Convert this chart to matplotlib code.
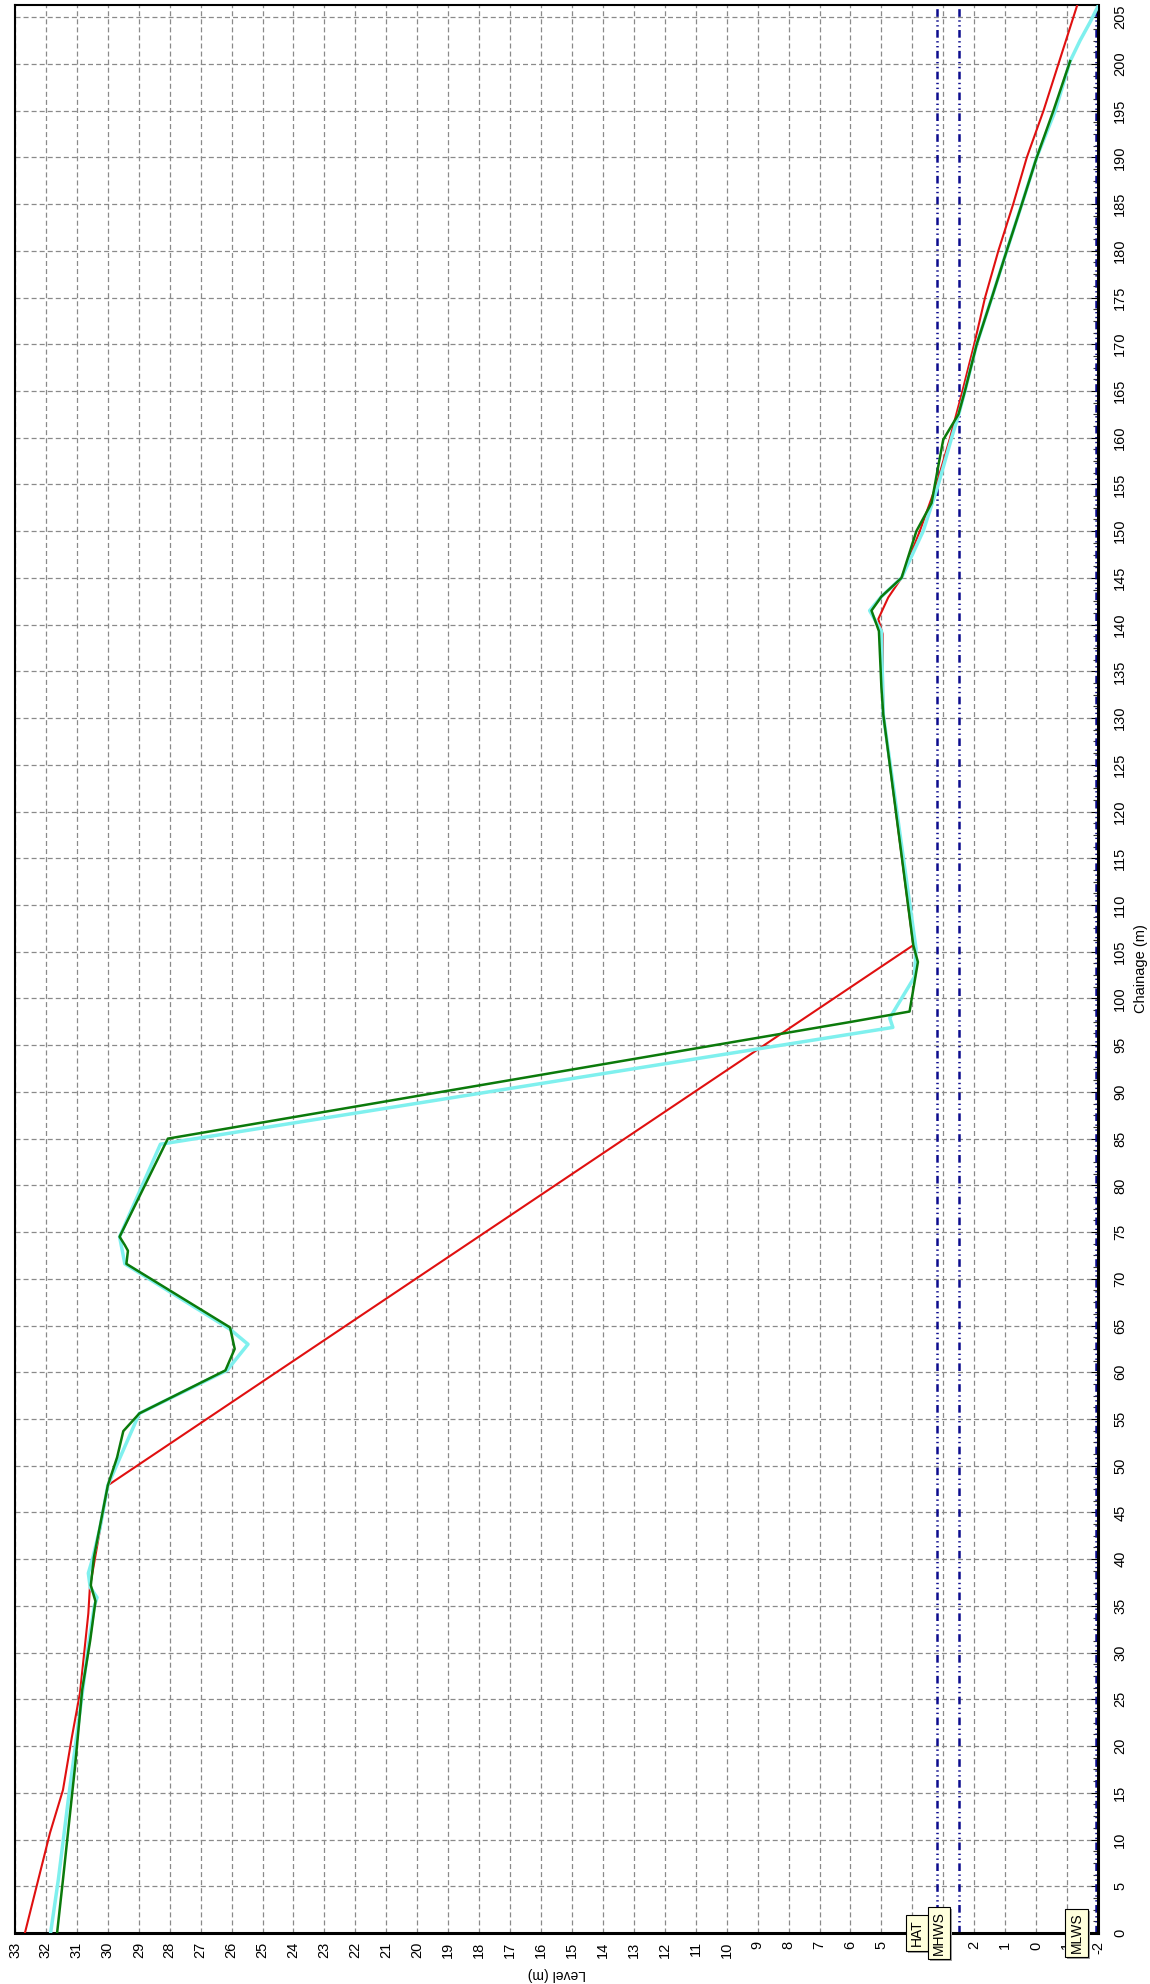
import matplotlib
matplotlib.use("Agg")
import matplotlib.pyplot as plt
from matplotlib.ticker import MultipleLocator, FixedLocator

plt.rcParams['font.family'] = ['Liberation Sans', 'DejaVu Sans']
plt.rcParams['lines.scale_dashes'] = False

# === Profiles: chainage (m) and level (m) ===
red_ch = [0, 10.7, 15.3, 21, 25.7, 34.2, 37, 47.9, 105.7, 130.4, 139, 140.6, 142.9,
          145, 150, 155, 160, 165, 170, 175, 180, 185, 190, 195, 206.3]
red_lv = [32.68, 31.87, 31.45, 31.16, 30.9, 30.63, 30.58, 30.0, 3.97, 4.94, 4.96, 5.1, 4.78,
          4.35, 3.76, 3.22, 2.78, 2.38, 2.0, 1.65, 1.22, 0.74, 0.30, -0.24, -1.33]

green_ch = [0, 5.7, 17.8, 26, 31.3, 35.5, 37.2, 40.2, 47.9, 50.9, 53.7, 55.6, 60.2, 62.5,
            64.8, 71.6, 73.0, 73.6, 74.5, 85.0, 97.5, 98.6, 103.9, 105.7, 130.4, 133.3, 139.3,
            141.5, 143, 145, 150, 153, 155, 157, 159.8, 162.5, 165, 170, 175, 180, 185,
            190, 195, 200.3]
green_lv = [31.64, 31.45, 31.06, 30.83, 30.57, 30.4, 30.55, 30.45, 30.0, 29.7, 29.5, 28.98, 26.2, 25.9,
            26.05, 29.4, 29.35, 29.45, 29.62, 28.06, 5.97, 4.09, 3.82, 3.97, 4.94, 5.0, 5.08,
            5.32, 5.0, 4.35, 3.87, 3.38, 3.27, 3.16, 3.0, 2.51, 2.3, 1.92, 1.43, 0.95, 0.46,
            -0.02, -0.56, -1.1]

cyan_ch = [0, 5.7, 14.2, 25, 31, 34.9, 35.9, 37.0, 38.5, 40.2, 43.4, 47.9, 55.6, 60.2, 63.0,
           64.6, 71.6, 74.5, 84.4, 96.9, 97.9, 102.3, 105.3, 130.4, 139.3, 141.5, 143, 145,
           150, 155, 160, 162.5, 165, 170, 175, 180, 185, 190, 195, 200.3, 202.5, 204.5, 206.3]
cyan_lv = [31.85, 31.6, 31.28, 30.85, 30.62, 30.44, 30.35, 30.57, 30.63, 30.48, 30.25, 30.0, 28.98, 26.15, 25.47,
           26.05, 29.45, 29.62, 28.3, 4.63, 4.73, 3.93, 3.88, 4.94, 5.0, 5.38, 5.0, 4.35,
           3.65, 3.16, 2.73, 2.5, 2.3, 1.92, 1.43, 0.95, 0.46, -0.02, -0.62, -1.1, -1.42, -1.75, -2.02]

# === Tidal levels ===
tide_names = ["HAT", "MHWS", "MLWS"]
tide_levels = [3.2, 2.5, -1.95]

level_ticks = list(range(33, -3, -1))
chainage_ticks = list(range(0, 210, 5))

W, H = 1150, 1984
fig = plt.figure(figsize=(W / 100, H / 100), dpi=100)
ax = fig.add_axes([15 / W, 1 - 1933 / H, (1098 - 15) / W, (1933 - 5) / H])

ax.set_xlim(33, -2)
ax.set_ylim(0, 206.3)

ax.set_axisbelow(True)
ax.grid(True, which='major', color='#8a8a8a', lw=0.9, linestyle=(0, (3.6, 2.2)))

navy = '#0c0c8e'
for lvl in tide_levels:
    ax.axvline(lvl, color=navy, lw=1.8, linestyle=(0, (5.5, 2.5, 1, 2.5, 1, 2.5)), zorder=2)

ax.plot(red_lv, red_ch, color='#e01010', lw=1.5, zorder=3)
ax.plot(cyan_lv, cyan_ch, color='#7ff0ee', lw=2.5, zorder=4)
ax.plot(green_lv, green_ch, color='#0b7a0b', lw=1.8, zorder=5)

# axes, ticks
ax.xaxis.set_major_locator(FixedLocator(level_ticks))
ax.set_xticklabels([str(v) for v in level_ticks])
ax.yaxis.set_major_locator(FixedLocator(chainage_ticks))
ax.set_yticklabels([str(v) for v in chainage_ticks])
ax.yaxis.set_minor_locator(MultipleLocator(1.25))
ax.yaxis.tick_right()

ax.tick_params(axis='x', which='major', length=0, pad=6, labelsize=10.5, labelrotation=90)
ax.tick_params(axis='y', which='major', direction='in', length=5, pad=11,
               labelsize=10.5, labelrotation=90, right=True, left=False)
ax.tick_params(axis='y', which='minor', direction='in', length=3.5, width=0.8,
               color='#333333', right=True, left=False)
for lab in ax.get_yticklabels():
    lab.set_va('center')

for name, sp in ax.spines.items():
    sp.set_color('black')
    sp.set_linewidth(2.2 if name in ('right', 'bottom') else 1.5)

ax.set_xlabel('Level (m)', rotation=180, fontsize=10)
ax.xaxis.set_label_coords(0.5, -0.0176)
ax.set_ylabel('Chainage (m)', fontsize=10.5)
ax.yaxis.set_label_position('right')
ax.yaxis.set_label_coords((1134 - 15) / 1083, 0.5)

# tidal labels with shadow
for name, lvl in zip(tide_names, tide_levels):
    ax.annotate(name, xy=(lvl, 0), xytext=(-18, -2), textcoords='offset pixels',
                rotation=90, ha='center', va='center', fontsize=10, color='#a0a0a0',
                bbox=dict(boxstyle='square,pad=0.3', fc='#a0a0a0', ec='none'),
                annotation_clip=False, zorder=9)
    ax.annotate(name, xy=(lvl, 0), xytext=(-20, 0), textcoords='offset pixels',
                rotation=90, ha='center', va='center', fontsize=10, color='black',
                bbox=dict(boxstyle='square,pad=0.3', fc='#ffffdc', ec='black', lw=0.8),
                annotation_clip=False, zorder=10)

fig.savefig('out.png', dpi=100, facecolor='white')
